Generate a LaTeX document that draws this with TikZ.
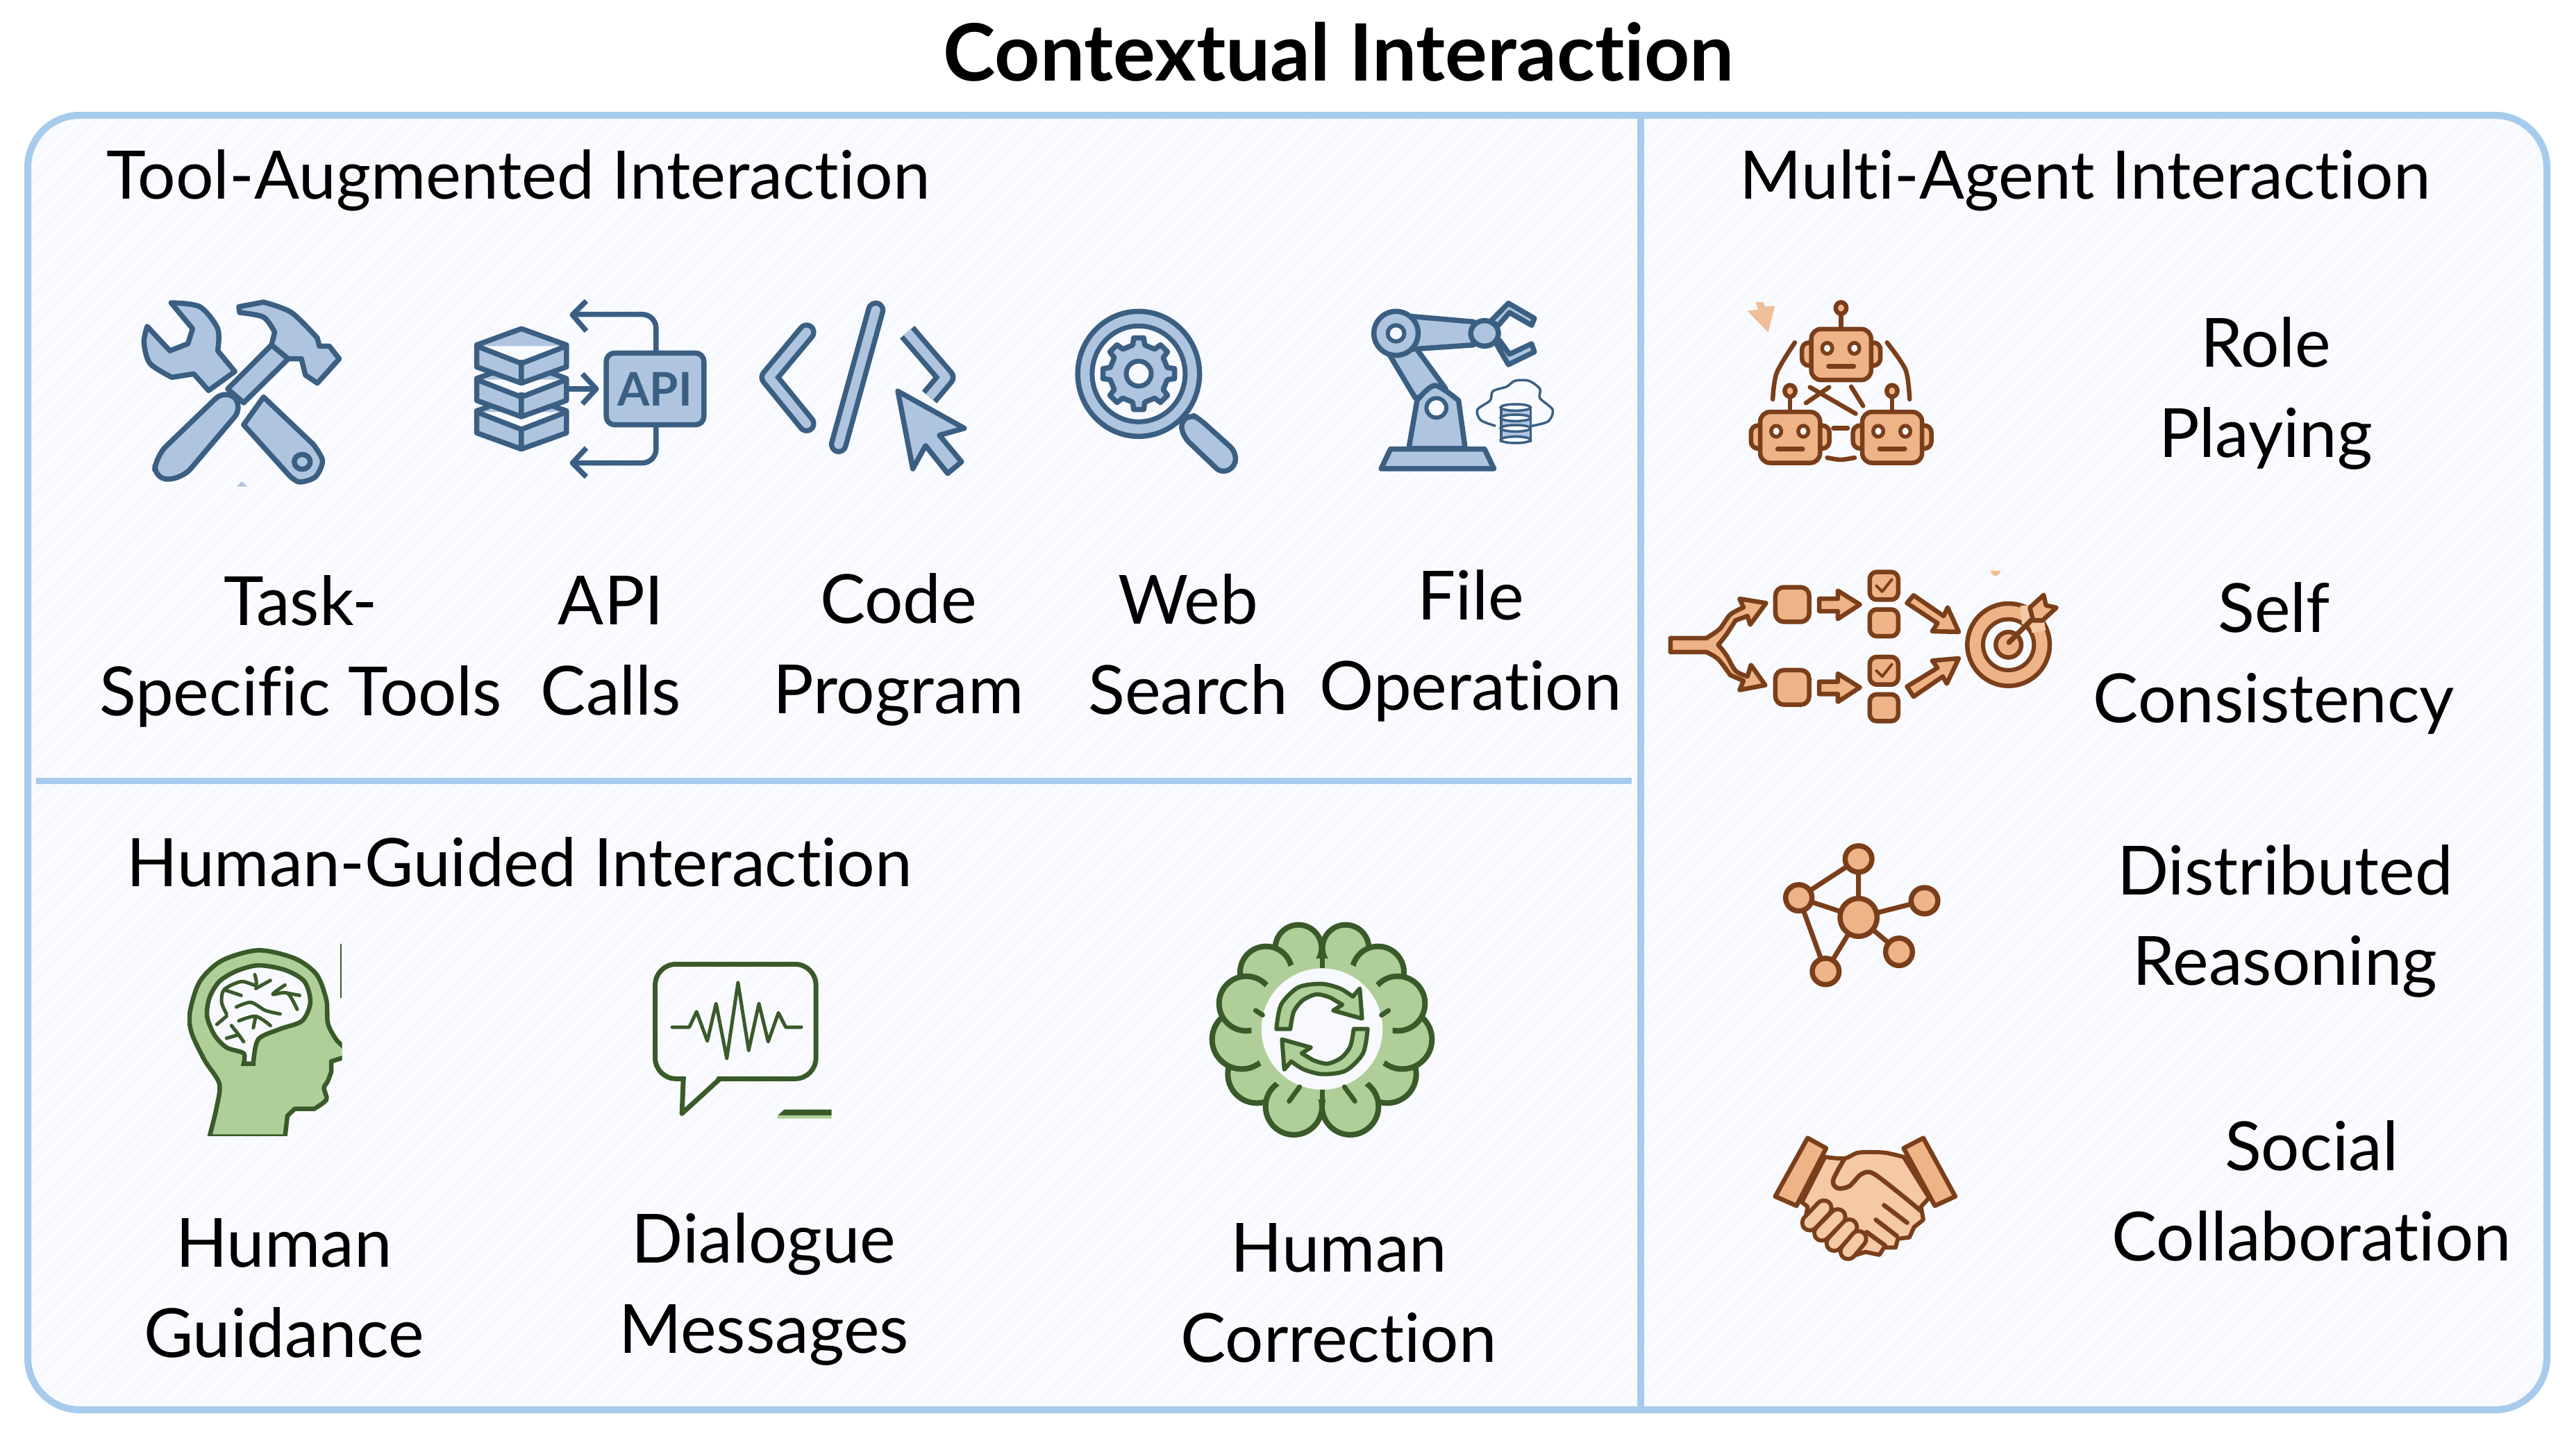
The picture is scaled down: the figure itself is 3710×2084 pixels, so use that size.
\documentclass[tikz,border=0pt]{standalone}
\usepackage{fontspec}
\setmainfont[Ligatures=NoCommon]{Lato}
\usetikzlibrary{positioning,calc}

\definecolor{framecol}{HTML}{A6CBEC}
\definecolor{bgpale}{HTML}{F7F9FE}
\definecolor{bgstripe}{HTML}{FBFCFF}
\definecolor{iconblue}{HTML}{3B5F83}
\definecolor{iconbluefill}{HTML}{AFC5DF}
\definecolor{icongreen}{HTML}{3A5A2A}
\definecolor{icongreenfill}{HTML}{B0CE98}
\definecolor{iconbrown}{HTML}{7A3F1A}
\definecolor{iconorange}{HTML}{EFB388}
\definecolor{iconpeach}{HTML}{F5C9A6}

\tikzset{
  iconcrop/.style n args={3}{shift={(#1)},x=0.1mm/#2,y=-0.1mm/#3},
  bluefig/.style={draw=iconblue,fill=iconbluefill,line width=0.75mm,line join=round},
  bluetube/.style={draw=iconblue,line width=0.75mm,double=iconbluefill,double distance=1.3mm,line cap=round,line join=round},
  blueline/.style={draw=iconblue,line width=0.75mm,line join=round},
  greenfig/.style={draw=icongreen,fill=icongreenfill,line width=0.8mm,line join=round},
  greenline/.style={draw=icongreen,line width=0.7mm,line cap=round,line join=round},
  orangefig/.style={draw=iconbrown,fill=iconorange,line width=0.65mm,line join=round},
  brownline/.style={draw=iconbrown,line width=0.65mm,line cap=round,line join=round},
  sectitle/.style={font=\fontsize{27.4}{37}\selectfont},
  lbl/.style={font=\fontsize{27.8}{37}\selectfont,align=center}
}

\begin{document}
\begin{tikzpicture}[x=0.1mm,y=-0.1mm]
  \useasboundingbox (0,0) rectangle (3710,2084);

  % panel
  \fill[white] (0,0) rectangle (3710,2084);
  \begin{scope}
    \clip[rounded corners=7.5mm] (40,166) rectangle (3668,2030);
    \fill[bgpale] (0,0) rectangle (3710,2084);
    \foreach \i in {0,16,...,5800}
      \draw[bgstripe,line width=0.5mm] (\i,0) -- (\i-2084,2084);
  \end{scope}
  \draw[framecol,line width=1mm,rounded corners=7.5mm] (40,166) rectangle (3668,2030);
  \coordinate (divtop) at (2363,166);
  \coordinate (divbot) at (2363,2030);
  \coordinate (hdivl) at (52,1124);
  \coordinate (hdivr) at (2350,1124);
  \draw[framecol,line width=1mm] (divtop) -- (divbot);
  \draw[framecol,line width=0.9mm] (hdivl) -- (hdivr);

  % texts
  \node[font=\fontsize{32.4}{40}\selectfont\bfseries] (title) at (1928,75) {Contextual Interaction};
  \node[sectitle,anchor=west] (headtool) at (141,260) {Tool-Augmented Interaction};
  \node[sectitle,anchor=west] (headhuman) at (170,1241) {Human-Guided Interaction};
  \node[sectitle] (headagent) at (3003,260) {Multi-Agent Interaction};
  \node[lbl] (lbltask) at (433,938) {Task-\\Specific Tools};
  \node[lbl] (lblapi) at (880,930) {API\\Calls};
  \node[lbl] (lblcode) at (1294,935) {Code\\Program};
  \node[lbl] (lblweb) at (1711,928) {Web\\Search};
  \node[lbl] (lblfile) at (2118,930) {File\\Operation};
  \node[lbl] (lblguid) at (409,1855) {Human\\Guidance};
  \node[lbl] (lbldial) at (1100,1856) {Dialogue\\Messages};
  \node[lbl] (lblcorr) at (1928,1862) {Human\\Correction};
  \node[lbl] (lblrole) at (3263,566) {Role\\Playing};
  \node[lbl] (lblself) at (3275,948) {Self\\Consistency};
  \node[lbl] (lbldist) at (3291,1326) {Distributed\\Reasoning};
  \node[lbl] (lblsoc) at (3329,1715) {Social\\Collaboration};

  % tools and api
  \begin{scope}[iconcrop={150,400}{1.742}{3}]
    \draw[bluefig] plot[smooth] coordinates {(168,108) (240,125) (285,220) (285,315)} -- (328,405) -- (262,487) -- (225,415)
      -- plot[smooth] coordinates {(170,430) (115,370) (100,280) (108,210)} -- (165,315) -- (210,285) -- (222,220) -- cycle;
    \draw[bluefig] (400,515) -- plot[smooth] coordinates {(525,720) (548,790) (530,860) (490,882) (465,855)} -- (350,635) -- cycle;
    \draw[blueline] (497,795) circle[x radius=20,y radius=32];
    \draw[bluefig] (310,480) -- (420,290) -- (462,350) -- (350,540) -- cycle;
    \draw[bluefig,rounded corners=2mm] (305,480) -- (350,555) -- (195,870) -- (125,870) -- (130,770) -- cycle;
    \draw[bluefig] (420,290) -- plot[smooth] coordinates {(428,235) (400,170) (340,150)} -- (338,125)
      -- plot[smooth] coordinates {(400,105) (470,150) (535,260)} -- (540,295) -- (565,295) -- (590,350) -- (535,455) -- (505,420) -- (495,350) -- (462,350) -- cycle;
    \fill[iconbluefill] (332,902) -- (345,880) -- (360,902) -- cycle;
    \draw[blueline,rounded corners=2mm] (1385,325) -- (1385,158) -- (1180,158);
    \draw[blueline] (1210,100) -- (1175,160) -- (1210,230);
    \draw[blueline,rounded corners=2mm] (1385,635) -- (1385,800) -- (1180,800);
    \draw[blueline] (1210,735) -- (1175,800) -- (1210,860);
    \coordinate (dbout) at (1160,480);
    \coordinate (apiin) at (1235,480);
    \draw[blueline] (dbout) -- (apiin);
    \draw[blueline] (1200,415) -- (apiin) -- (1200,545);
    \draw[bluefig,rounded corners=1.2mm] (1260,325) rectangle (1505,635);
    \node[text=iconblue,font=\fontsize{19}{20}\selectfont\bfseries] (apitext) at (1382,482) {API};
    \foreach \dy in {285,145,0}
      \draw[bluefig] (1047,220+\dy) -- (1160,290+\dy) -- (1160,385+\dy) -- (1047,455+\dy) -- (935,385+\dy) -- (935,290+\dy) -- cycle
        (935,295+\dy) -- (1047,370+\dy) -- (1160,295+\dy) (1047,370+\dy) -- (1047,455+\dy);
  \end{scope}

  % code, magnifier, robot arm
  \begin{scope}[iconcrop={1050,400}{1.2544}{3}]
    \draw[bluetube] (140,235) -- (72,430) -- (140,630);
    \draw[bluetube] (265,140) -- (198,720);
    \draw[bluetube,line cap=butt] (322,235) -- (392,430) -- (362,515);
    \draw[bluefig] (305,490) -- (425,650) -- (380,680) -- (420,795) -- (395,845) -- (355,725) -- (332,825) -- cycle;
    \draw[bluefig,rounded corners=1mm] (835,590) -- (850,610) -- (915,750) -- (915,815) -- (890,845) -- (822,690) -- (815,625) -- cycle;
    \draw[bluefig] (740,415) circle[x radius=110,y radius=270];
    \draw[draw=iconblue,fill=bgpale,line width=0.7mm] (740,415) circle[x radius=84,y radius=207];
  \end{scope}
  \begin{scope}[shift={(1640,538)}]
    \draw[bluefig] (-12:42) \foreach \a in {0,45,...,315} {-- (\a-12:42) -- (\a-8:52) -- (\a+8:52) -- (\a+12:42)} -- cycle;
    \draw[draw=iconblue,fill=bgpale,line width=0.7mm] (0,0) circle[radius=18];
  \end{scope}
  \begin{scope}[iconcrop={1050,400}{1.2544}{3}]
    \draw[bluefig] (1195,740) -- (1365,740) -- (1382,825) -- (1178,825) -- cycle;
    \draw[bluefig] (1190,320) -- (1240,520) -- (1295,480) -- (1240,300) -- cycle;
    \draw[bluefig] (1228,738) -- plot[smooth] coordinates {(1243,530) (1275,465) (1318,530)} -- (1330,738) -- cycle;
    \draw[draw=iconblue,fill=bgpale,line width=0.6mm] (1278,562) circle[x radius=18,y radius=42];
    \draw[bluefig] (1225,165) -- (1345,190) -- (1345,290) -- (1225,310) -- cycle;
    \draw[bluefig] (1205,240) circle[x radius=40,y radius=95];
    \draw[draw=iconblue,fill=bgpale,line width=0.6mm] (1205,240) circle[x radius=15,y radius=35];
    \draw[bluefig] (1375,190) -- (1408,110) -- (1455,175) -- (1450,205) -- (1410,150) -- (1390,205) -- cycle;
    \draw[bluefig] (1385,280) -- (1408,375) -- (1455,320) -- (1450,285) -- (1410,330) -- (1392,270) -- cycle;
    \draw[bluefig] (1365,240) circle[x radius=25,y radius=55];
    \draw[draw=iconblue,line width=0.35mm] plot[smooth] coordinates {(1385,640) (1358,615) (1352,570) (1375,530) (1380,490) (1405,470) (1420,445) (1445,445) (1465,480) (1465,520) (1488,570) (1480,620) (1450,640)};
    \draw[draw=iconblue,fill=iconbluefill,line width=0.35mm] (1395,560) rectangle (1448,705);
    \foreach \yy in {560,605,650,700}
      \draw[draw=iconblue,fill=bgpale,line width=0.35mm] (1421,\yy) circle[x radius=27,y radius=14];
  \end{scope}

  % head and bubble
  \begin{scope}[iconcrop={200,1300}{1.4255}{3}]
    \begin{scope}
      \clip (100,190) rectangle (417,1005);
      \draw[greenfig,line width=0.65mm] plot[smooth] coordinates {(145,1010) (160,880) (165,780) (135,680) (108,560) (105,470) (125,340) (170,250) (245,205) (320,240) (365,310) (385,420) (388,520) (405,590) (425,630)}
        -- (425,665) -- (395,685) -- plot[smooth] coordinates {(395,730) (388,770) (380,800) (385,850) (360,890)} -- (320,890) -- (305,920) -- (300,1010) -- cycle;
    \end{scope}
    \draw[icongreen,line width=0.25mm] (415,178) -- (415,410);
    \draw[draw=icongreen,fill=bgpale,line width=0.65mm] plot[smooth] coordinates {(215,695) (215,650) (180,625) (155,570) (140,490) (145,410) (165,340) (200,295) (245,270) (300,290) (340,340) (352,430) (335,510) (290,545) (245,590) (235,695)} -- cycle;
    \draw[greenline,line width=0.5mm]
      plot[smooth] coordinates {(238,310) (240,355) (210,340) (175,375) (170,430) (180,480)}
      plot[smooth] coordinates {(270,335) (240,370)}
      plot[smooth] coordinates {(175,375) (210,400)}
      plot[smooth] coordinates {(300,355) (275,395) (305,390) (325,460)}
      plot[smooth] coordinates {(330,400) (305,390)}
      plot[smooth] coordinates {(200,450) (230,430) (260,465) (290,480)}
      plot[smooth] coordinates {(205,510) (240,490) (270,530)}
      plot[smooth] coordinates {(240,490) (235,540)}
      plot[smooth] coordinates {(180,490) (160,525)}
      plot[smooth] coordinates {(190,530) (205,570) (215,600)}
      plot[smooth] coordinates {(205,570) (180,585)};
    \draw[greenline,rounded corners=3mm] (1118,760) -- (1060,760) -- (1060,265) -- (1390,265) -- (1390,760) -- (1190,760);
    \draw[greenline,line cap=butt] (1118,750) -- (1115,910) -- (1192,762);
    \draw[greenline,line width=0.5mm] (1095,537) -- (1130,537) -- (1145,470) -- (1167,597) -- (1185,435) -- (1207,672) -- (1230,345) -- (1252,637) -- (1273,435) -- (1292,600) -- (1313,475) -- (1328,537) -- (1360,537);
    \fill[icongreen] (1312,918) -- (1325,893) -- (1422,893) -- (1422,918) -- cycle;
    \fill[icongreenfill] (1310,932) -- (1312,918) -- (1422,918) -- (1422,932) -- cycle;
  \end{scope}

  % brain with refresh arrows
  \begin{scope}[iconcrop={1700,1300}{3}{3}]
    \foreach \sx in {1,-1} {
      \begin{scope}[shift={(612,0)},xscale=\sx,shift={(-612,0)}]
        \foreach \cx/\cy/\rr in {510/195/100,330/740/125,490/880/122,265/590/128,370/300/112,285/435/118}
          \draw[greenfig] (\cx,\cy) circle[radius=\rr];
      \end{scope}
    }
    \fill[icongreenfill] (612,545) circle[radius=305];
    \fill[bgpale] (612,545) circle[radius=262];
    \draw[greenline,line cap=butt] (612,170) -- (612,283);
    \draw[greenline,line cap=butt] (612,807) -- (612,935);
    \foreach \sx in {1,-1} {
      \begin{scope}[shift={(612,0)},xscale=\sx,shift={(-612,0)}]
        \draw[greenline] (470,857) -- (515,795);
        \draw[greenline] (325,465) -- (355,485);
      \end{scope}
    }
    \foreach \rot in {0,180} {
      \begin{scope}[rotate around={\rot:(612,545)}]
        \draw[greenfig,line width=0.6mm] plot[smooth] coordinates {(415,545) (435,440) (510,365) (610,350) (690,370) (745,405)}
          -- (775,370) -- (785,500) -- (660,465) -- (700,440) -- plot[smooth] coordinates {(650,410) (590,395) (530,420) (490,470) (475,545)} -- cycle;
      \end{scope}
    }
  \end{scope}

  % robots and process
  \begin{scope}[iconcrop={2400,400}{2.613}{2.412}]
    \fill[iconorange!85!white] (305,115) -- (345,110) -- (335,85) -- (365,85) -- (372,100) -- (408,97) -- (383,190) -- cycle;
    \foreach \dx/\dy in {0/0,-192/288,192/288} {
      \begin{scope}[shift={(\dx,\dy)}]
        \draw[brownline] (657,170) -- (657,125);
        \draw[orangefig] (657,105) circle[radius=20];
        \draw[orangefig,rounded corners=1mm] (510,225) rectangle (560,305);
        \draw[orangefig,rounded corners=1mm] (755,225) rectangle (805,305);
        \draw[orangefig,rounded corners=1.4mm] (545,178) rectangle (770,355);
        \draw[draw=iconbrown,fill=white,line width=0.55mm] (605,245) circle[radius=19];
        \draw[draw=iconbrown,fill=white,line width=0.55mm] (707,245) circle[radius=19];
        \draw[brownline] (610,307) -- (705,307);
      \end{scope}
    }
    \draw[brownline] plot[smooth] coordinates {(400,422) (415,330) (483,225)};
    \draw[brownline] plot[smooth] coordinates {(830,225) (900,320) (915,422)};
    \draw[brownline] (540,380) -- (712,472);
    \draw[brownline] (612,380) -- (525,435);
    \draw[brownline] (695,378) -- (740,445);
    \draw[brownline] (628,522) -- (682,522);
    \draw[brownline] plot[smooth] coordinates {(605,625) (655,632) (708,625)};
    \draw[orangefig] (15,1252) -- plot[smooth] coordinates {(150,1252) (200,1220) (240,1170) (290,1145)} -- (275,1115) -- (375,1130) -- (315,1205) -- (305,1175)
      -- plot[smooth] coordinates {(260,1190) (225,1240) (195,1275)} -- plot[smooth] coordinates {(195,1275) (225,1310) (260,1365) (305,1385)} -- (318,1345) -- (372,1415) -- (275,1432) -- (290,1400)
      -- plot[smooth] coordinates {(240,1380) (195,1325) (150,1300)} -- (15,1300) -- cycle;
    \foreach \dy in {0,288} {
      \draw[orangefig,rounded corners=1.2mm] (410,1075+\dy) rectangle (537,1195+\dy);
      \draw[orangefig] (575,1115+\dy) -- (645,1115+\dy) -- (645,1087+\dy) -- (728,1135+\dy) -- (645,1185+\dy) -- (645,1158+\dy) -- (575,1158+\dy) -- cycle;
    }
    \foreach \dy in {0,295} {
      \draw[orangefig,rounded corners=1mm] (765,1022+\dy) rectangle (872,1118+\dy);
      \draw[orangefig,rounded corners=1mm] (765,1152+\dy) rectangle (872,1245+\dy);
      \draw[brownline,line width=0.4mm] (790,1070+\dy) -- (812,1090+\dy) -- (848,1048+\dy);
    }
    \draw[orangefig] (905,1130) -- (930,1103) -- (1043,1175) -- (1058,1145) -- (1100,1230) -- (1000,1228) -- (1020,1200) -- cycle;
    \draw[orangefig] (905,1420) -- (1020,1355) -- (1000,1330) -- (1100,1322) -- (1055,1410) -- (1040,1385) -- (930,1455) -- cycle;
  \end{scope}

  % target
  \begin{scope}[iconcrop={2810,800}{3}{3}]
    \fill[iconorange!85!white] (170,65) .. controls (175,95) and (208,95) .. (213,65) -- cycle;
    \draw[orangefig] (248,385) circle[radius=178];
    \draw[draw=iconbrown,fill=bgpale,line width=0.6mm] (248,385) circle[radius=110];
    \draw[orangefig] (248,385) circle[radius=55];
    \draw[iconpeach,line width=1.6mm] (322,215) -- (330,295);
    \draw[iconpeach,line width=1.6mm] (345,310) -- (405,300);
    \draw[brownline,line width=0.75mm] (250,375) -- (345,280);
    \draw[orangefig] (340,225) -- (400,170) -- (410,215) -- (455,225) -- (395,280) -- (355,280) -- cycle;
  \end{scope}

  % network
  \begin{scope}[iconcrop={2500,1180}{3}{2.376}]
    \coordinate (nethub) at (530,335);
    \coordinate (nettop) at (530,135);
    \coordinate (netleft) at (272,268);
    \coordinate (netright) at (815,278);
    \coordinate (netlow) at (705,453);
    \coordinate (netbot) at (388,520);
    \draw[brownline,line width=0.7mm] (nettop) -- (netleft) -- (netbot) -- (nethub) -- (netleft);
    \draw[brownline,line width=0.7mm] (nettop) -- (nethub) -- (netright);
    \draw[brownline,line width=0.7mm] (nethub) -- (netlow);
    \draw[orangefig,line width=0.75mm] (nethub) circle[x radius=80,y radius=65];
    \draw[orangefig,line width=0.75mm] (nettop) circle[x radius=58,y radius=45];
    \draw[orangefig,line width=0.75mm] (netleft) circle[x radius=57,y radius=45];
    \draw[orangefig,line width=0.75mm] (netright) circle[x radius=58,y radius=45];
    \draw[orangefig,line width=0.75mm] (netlow) circle[x radius=58,y radius=47];
    \draw[orangefig,line width=0.75mm] (netbot) circle[x radius=58,y radius=45];
  \end{scope}

  % handshake
  \begin{scope}[iconcrop={2500,1180}{3}{2.376}]
    \draw[draw=iconbrown,fill=iconpeach,line width=0.6mm,line join=round] plot[smooth] coordinates {(385,1155) (470,1160) (530,1140) (640,1140) (725,1155)}
      -- (835,1295) -- (800,1325) -- (810,1370) -- (770,1395) -- (750,1430) -- (700,1435) -- (690,1465) -- (640,1465) -- (620,1490) -- (560,1480) -- (520,1490) -- (470,1470) -- (450,1450) -- (400,1440) -- (350,1400) -- (300,1370) -- (310,1325) -- (285,1310) -- cycle;
    \draw[brownline] plot[smooth] coordinates {(470,1160) (420,1235) (440,1262) (490,1255) (540,1215) (590,1210) (700,1275) (800,1340)};
    \draw[brownline] (640,1320) -- (740,1380);
    \draw[brownline] (605,1370) -- (695,1425);
    \draw[brownline] (565,1412) -- (645,1458);
    \foreach \xa/\ya/\xb/\yb in {320/1380/380/1330,372/1415/440/1360,425/1450/490/1395,485/1478/530/1435}
      \draw[draw=iconbrown,line width=0.6mm,double=iconpeach,double distance=1.6mm,line cap=round] (\xa,\ya) -- (\xb,\yb);
    \draw[orangefig,line width=0.65mm] (310,1090) -- (390,1125) -- (262,1322) -- (170,1290) -- cycle;
    \draw[orangefig,line width=0.65mm] (810,1090) -- (725,1125) -- (860,1322) -- (948,1290) -- cycle;
  \end{scope}
\end{tikzpicture}
\end{document}
